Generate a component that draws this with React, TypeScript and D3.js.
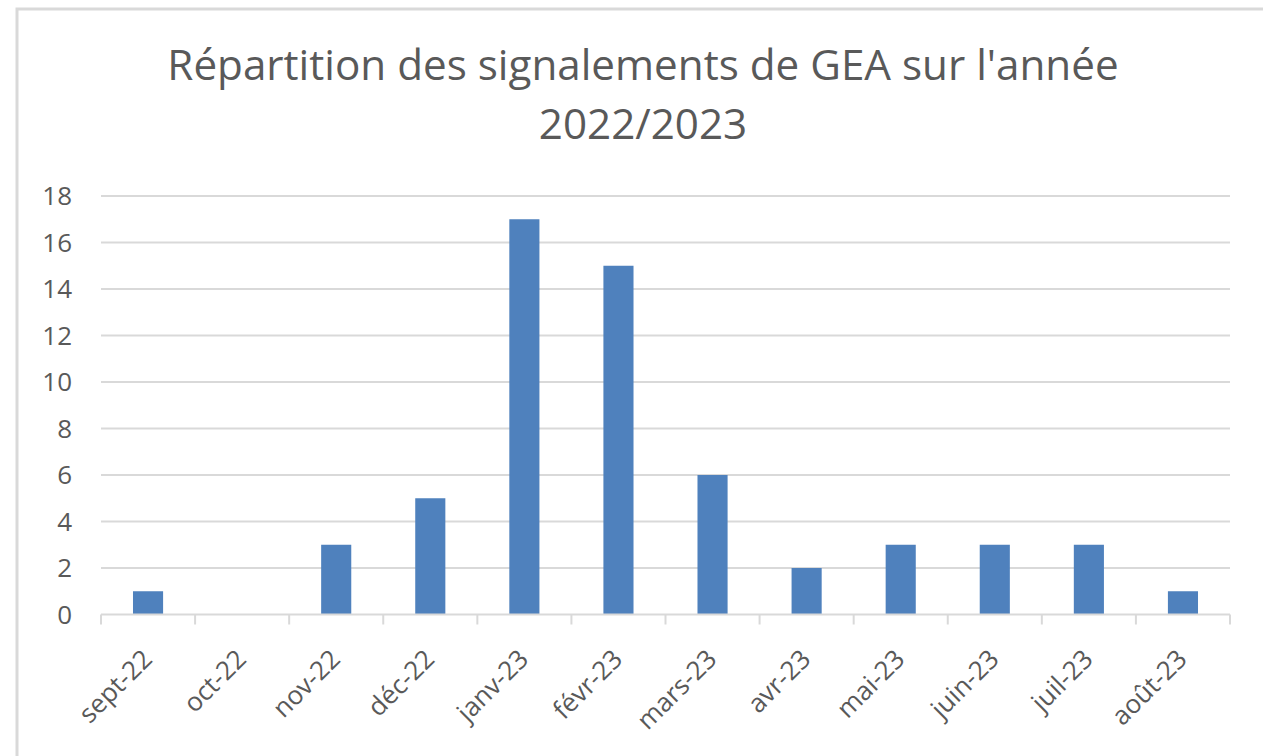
import React, { useEffect, useRef } from 'react';
import * as d3 from 'd3';

const months = ['sept-22', 'oct-22', 'nov-22', 'déc-22', 'janv-23', 'févr-23', 'mars-23', 'avr-23', 'mai-23', 'juin-23', 'juil-23', 'août-23'];
const counts = [1, 0, 3, 5, 17, 15, 6, 2, 3, 3, 3, 1];
const yTicks = [0, 2, 4, 6, 8, 10, 12, 14, 16, 18];
const titleLines = ["Répartition des signalements de GEA sur l'année", '2022/2023'];

const App = () => {
    const ref = useRef<SVGSVGElement>(null);

    useEffect(() => {
        const width = 1263;
        const height = 756;
        const font = '"Open Sans", "Noto Sans", sans-serif';
        const textColor = '#595959';
        const lineColor = '#d9d9d9';
        const svg = d3.select(ref.current);
        svg.selectAll('*').remove();
        svg.attr('width', width).attr('height', height);

        // chart frame
        svg.append('rect')
            .attr('x', 17).attr('y', 9)
            .attr('width', 1270).attr('height', 800)
            .attr('fill', '#fff')
            .attr('stroke', lineColor).attr('stroke-width', 3);

        // title
        svg.append('g').selectAll('text').data(titleLines).enter()
            .append('text')
            .attr('x', 643)
            .attr('y', (d, i) => 80 + i * 59)
            .attr('text-anchor', 'middle')
            .attr('font-family', font)
            .attr('font-size', 42.2)
            .attr('fill', textColor)
            .text((d) => d);

        const x = d3.scaleBand().domain(months).range([101, 1230]).paddingInner(0.68).paddingOuter(0.34);
        const y = d3.scaleLinear().domain([0, 18]).range([614.5, 196]);

        // gridlines
        svg.append('g').selectAll('line').data(yTicks.filter((t) => t > 0)).enter()
            .append('line')
            .attr('x1', 101).attr('x2', 1230)
            .attr('y1', (d) => y(d)).attr('y2', (d) => y(d))
            .attr('stroke', lineColor).attr('stroke-width', 2);

        // y labels
        svg.append('g').selectAll('text').data(yTicks).enter()
            .append('text')
            .attr('x', 72)
            .attr('y', (d) => y(d))
            .attr('dy', '0.36em')
            .attr('text-anchor', 'end')
            .attr('font-family', font)
            .attr('font-size', 26)
            .attr('fill', textColor)
            .text((d) => d);

        // bars
        svg.append('g').selectAll('rect').data(counts).enter()
            .append('rect')
            .attr('x', (d, i) => x(months[i]) as number)
            .attr('y', (d) => y(d))
            .attr('width', x.bandwidth())
            .attr('height', (d) => y(0) - y(d))
            .attr('fill', '#4f81bd');

        // x axis line and ticks
        const axis = svg.append('g');
        axis.append('line')
            .attr('x1', 101).attr('x2', 1230)
            .attr('y1', y(0)).attr('y2', y(0))
            .attr('stroke', lineColor).attr('stroke-width', 2);
        axis.selectAll('line.tick').data(d3.range(months.length + 1)).enter()
            .append('line')
            .attr('class', 'tick')
            .attr('x1', (i) => 101 + i * x.step()).attr('x2', (i) => 101 + i * x.step())
            .attr('y1', y(0)).attr('y2', y(0) + 10)
            .attr('stroke', lineColor).attr('stroke-width', 2);

        // x labels
        axis.selectAll('text').data(months).enter()
            .append('text')
            .attr('transform', (d) => `translate(${(x(d) as number) + x.bandwidth() / 2 - 1}, 654) rotate(-45)`)
            .attr('dy', '0.36em')
            .attr('text-anchor', 'end')
            .attr('font-family', font)
            .attr('font-size', 26)
            .attr('fill', textColor)
            .text((d) => d);
    }, []);

    return (
        <div style={{ position: 'absolute', left: 0, top: 0 }}>
            <svg ref={ref} style={{ display: 'block' }}></svg>
        </div>
    );
};

export default App;
